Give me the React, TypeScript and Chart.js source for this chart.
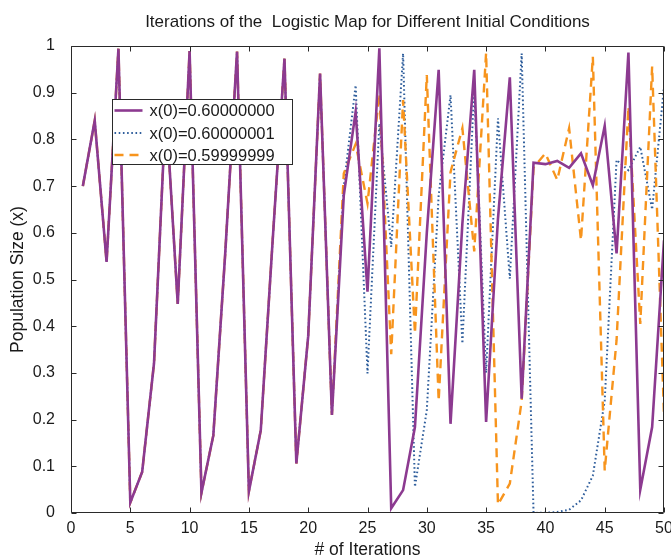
import React, { useEffect, useRef } from "react";
import { Chart, registerables } from "chart.js";

Chart.register(...registerables);

const iterations = [
  1, 2, 3, 4, 5, 6, 7, 8, 9, 10, 11, 12, 13, 14, 15, 16, 17, 18, 19, 20, 21, 22, 23, 24, 25,
  26, 27, 28, 29, 30, 31, 32, 33, 34, 35, 36, 37, 38, 39, 40, 41, 42, 43, 44, 45, 46, 47, 48, 49, 50,
];

const seriesA = [
  0.7, 0.84, 0.5376, 0.9943, 0.0225, 0.0879, 0.3208, 0.8716, 0.4476, 0.989,
  0.0434, 0.1661, 0.5542, 0.9883, 0.0464, 0.1769, 0.5825, 0.9728, 0.1059, 0.3787,
  0.941, 0.21, 0.68, 0.859, 0.474, 0.995, 0.01, 0.049, 0.184, 0.6,
  0.949, 0.191, 0.62, 0.949, 0.195, 0.63, 0.933, 0.245, 0.75, 0.747,
  0.754, 0.739, 0.77, 0.702, 0.829, 0.556, 0.986, 0.05, 0.184, 0.584,
];

const seriesB = [
  0.7, 0.84, 0.5376, 0.9943, 0.0225, 0.0879, 0.3208, 0.8716, 0.4476, 0.989,
  0.0434, 0.1661, 0.5542, 0.9883, 0.0464, 0.1769, 0.5825, 0.9728, 0.1059, 0.3787,
  0.941, 0.21, 0.7, 0.916, 0.299, 0.834, 0.57, 0.984, 0.056, 0.22,
  0.68, 0.895, 0.363, 0.91, 0.3, 0.845, 0.502, 0.984, 0.0002, 0.0005,
  0.002, 0.007, 0.027, 0.08, 0.24, 0.756, 0.734, 0.784, 0.65, 0.913,
];

const seriesC = [
  0.7, 0.84, 0.5376, 0.9943, 0.0225, 0.0879, 0.3208, 0.8716, 0.4476, 0.989,
  0.0434, 0.1661, 0.5542, 0.9883, 0.0464, 0.1769, 0.5825, 0.9728, 0.1059, 0.3787,
  0.941, 0.21, 0.727, 0.79, 0.663, 0.898, 0.34, 0.884, 0.384, 0.938,
  0.24, 0.73, 0.824, 0.56, 0.985, 0.018, 0.063, 0.24, 0.74, 0.77,
  0.713, 0.824, 0.584, 0.977, 0.091, 0.37, 0.87, 0.405, 0.956, 0.21,
];

const seriesLabels = ["x(0)=0.60000000", "x(0)=0.60000001", "x(0)=0.59999999"];
const xTickValues = [0, 5, 10, 15, 20, 25, 30, 35, 40, 45, 50];
const xTickLabels = ["0", "5", "10", "15", "20", "25", "30", "35", "40", "45", "50"];
const yTickValues = [0, 0.1, 0.2, 0.3, 0.4, 0.5, 0.6, 0.7, 0.8, 0.9, 1];
const yTickLabels = ["0", "0.1", "0.2", "0.3", "0.4", "0.5", "0.6", "0.7", "0.8", "0.9", "1"];

const titleText = "Iterations of the  Logistic Map for Different Initial Conditions";
const xTitle = "# of Iterations";
const yTitle = "Population Size (x)";

const FONT = "'Liberation Sans', Arial, Helvetica, sans-serif";
const TEXT = "#1a1a1a";
const FRAME = "#2a2a2a";

const framePlugin = {
  id: "frameTicks",
  afterDatasetsDraw(chart: any) {
    const { ctx, chartArea, scales } = chart;
    const { left, right, top, bottom } = chartArea;
    const L = Math.round(left) + 0.5;
    const R = Math.round(right) - 0.5;
    const T = Math.round(top) + 0.5;
    const B = Math.round(bottom) - 0.5;
    ctx.save();
    ctx.strokeStyle = FRAME;
    ctx.lineWidth = 1;
    ctx.beginPath();
    ctx.rect(L, T, R - L, B - T);
    const len = 5;
    xTickValues.forEach((v) => {
      const px = Math.round(scales.x.getPixelForValue(v)) + 0.5;
      ctx.moveTo(px, B);
      ctx.lineTo(px, B - len);
      ctx.moveTo(px, T);
      ctx.lineTo(px, T + len);
    });
    yTickValues.forEach((v) => {
      const py = Math.round(scales.y.getPixelForValue(v)) + 0.5;
      ctx.moveTo(L, py);
      ctx.lineTo(L + len, py);
      ctx.moveTo(R, py);
      ctx.lineTo(R - len, py);
    });
    ctx.stroke();
    ctx.restore();
  },
};

const titlePlugin = {
  id: "plotTitle",
  afterDraw(chart: any) {
    const { ctx, chartArea } = chart;
    ctx.save();
    ctx.fillStyle = TEXT;
    ctx.font = `17px ${FONT}`;
    ctx.textAlign = "center";
    ctx.textBaseline = "middle";
    ctx.fillText(titleText, (chartArea.left + chartArea.right) / 2, chartArea.top - 24);
    ctx.restore();
  },
};

const legendPlugin = {
  id: "boxLegend",
  afterDraw(chart: any) {
    const { ctx, chartArea } = chart;
    const bx = Math.round(chartArea.left) + 41.5;
    const by = Math.round(chartArea.top) + 53.5;
    const bw = 180;
    const bh = 65;
    ctx.save();
    ctx.fillStyle = "#ffffff";
    ctx.fillRect(bx, by, bw, bh);
    ctx.strokeStyle = FRAME;
    ctx.lineWidth = 1;
    ctx.strokeRect(bx, by, bw, bh);
    const rows = [11, 33.5, 55.5];
    [0, 1, 2].forEach((i) => {
      const ds = chart.data.datasets[i];
      const cy = by + rows[i];
      ctx.save();
      ctx.strokeStyle = ds.borderColor;
      ctx.lineWidth = ds.borderWidth;
      ctx.setLineDash(ds.borderDash || []);
      ctx.beginPath();
      ctx.moveTo(bx + 2, cy);
      ctx.lineTo(bx + 30, cy);
      ctx.stroke();
      ctx.restore();
      ctx.fillStyle = TEXT;
      ctx.font = `16.5px ${FONT}`;
      ctx.textBaseline = "middle";
      ctx.textAlign = "left";
      ctx.fillText(ds.label, bx + 37, cy + 1);
    });
    ctx.restore();
  },
};

export default function App() {
  const canvasRef = useRef<HTMLCanvasElement | null>(null);

  useEffect(() => {
    document.body.style.margin = "0";
    const canvas = canvasRef.current;
    if (!canvas) return;
    const toPoints = (vals: number[]) => iterations.map((x, i) => ({ x, y: vals[i] }));
    const chart = new Chart(canvas, {
      type: "line",
      data: {
        datasets: [
          {
            label: seriesLabels[0],
            data: toPoints(seriesA),
            borderColor: "#8c3a90",
            borderWidth: 2.6,
            borderDash: [],
            pointRadius: 0,
            tension: 0,
            order: 0,
          },
          {
            label: seriesLabels[1],
            data: toPoints(seriesB),
            borderColor: "#2f5e9c",
            borderWidth: 2,
            borderDash: [1.6, 2.6],
            pointRadius: 0,
            tension: 0,
            order: 2,
          },
          {
            label: seriesLabels[2],
            data: toPoints(seriesC),
            borderColor: "#f7941d",
            borderWidth: 2.4,
            borderDash: [9, 6],
            pointRadius: 0,
            tension: 0,
            order: 1,
          },
        ],
      },
      options: {
        animation: false,
        responsive: false,
        maintainAspectRatio: false,
        layout: { padding: { top: 46, right: 7, bottom: 0, left: 0 } },
        plugins: {
          legend: { display: false },
          tooltip: { enabled: false },
          title: { display: false },
        },
        scales: {
          x: {
            type: "linear",
            min: 0,
            max: 50,
            afterFit: (s: any) => {
              s.height = 46;
            },
            afterBuildTicks: (s: any) => {
              s.ticks = xTickValues.map((v) => ({ value: v }));
            },
            grid: { display: false },
            border: { display: false },
            ticks: {
              padding: -2,
              color: TEXT,
              font: { family: FONT, size: 16 },
              maxRotation: 0,
              autoSkip: false,
              callback: (_v: any, i: number) => xTickLabels[i],
            },
            title: {
              display: true,
              text: xTitle,
              color: TEXT,
              font: { family: FONT, size: 17.5, lineHeight: 1.0 },
              padding: { top: 0, bottom: 0 },
            },
          },
          y: {
            type: "linear",
            min: 0,
            max: 1,
            afterFit: (s: any) => {
              s.width = 71;
            },
            afterBuildTicks: (s: any) => {
              s.ticks = yTickValues.map((v) => ({ value: v }));
            },
            grid: { display: false },
            border: { display: false },
            ticks: {
              padding: 8,
              color: TEXT,
              font: { family: FONT, size: 16 },
              autoSkip: false,
              callback: (_v: any, i: number) => yTickLabels[i],
            },
            title: {
              display: true,
              text: yTitle,
              color: TEXT,
              font: { family: FONT, size: 17.5, lineHeight: 1.2 },
              padding: { top: 7.8, bottom: 0 },
            },
          },
        },
      },
      plugins: [framePlugin, titlePlugin, legendPlugin],
    } as any);
    return () => chart.destroy();
  }, []);

  return (
    <div style={{ width: 671, height: 559 }}>
      <canvas ref={canvasRef} width={671} height={559} style={{ display: "block" }} />
    </div>
  );
}
